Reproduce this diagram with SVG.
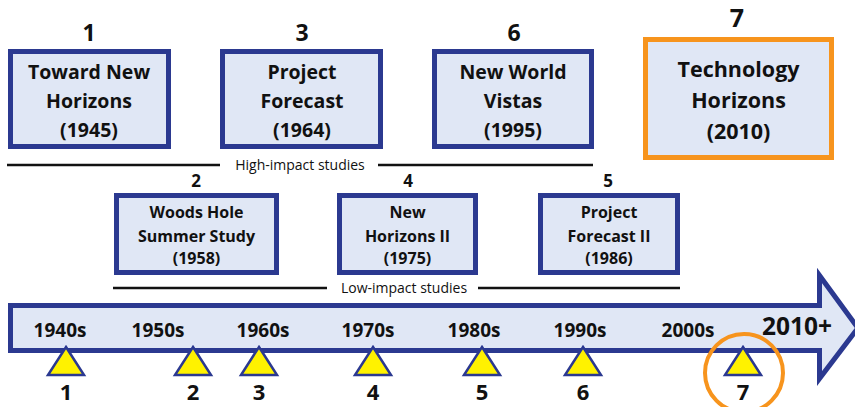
<svg xmlns="http://www.w3.org/2000/svg" width="855" height="407" viewBox="0 0 855 407">
<style>
text{font-family:"Open Sans","Liberation Sans",sans-serif;fill:#111;text-anchor:middle}
.box{fill:#E0E7F5;stroke:#2B3990;stroke-width:5}
.obox{fill:#E0E7F5;stroke:#F7941D;stroke-width:5}
.t1{font-size:19.5px;font-weight:700}
.t7{font-size:21.5px;font-weight:700}
.t2{font-size:16px;font-weight:700}
.n1{font-size:23px;font-weight:700}
.n3{font-size:22px;font-weight:700}
.n2{font-size:17px;font-weight:700}
.dec{font-size:19px;font-weight:700}
.lab{font-size:14px;font-weight:400}
.line{stroke:#111;stroke-width:2.5;fill:none}
.tri{fill:#FFF200;stroke:#2B3990;stroke-width:2.5;stroke-linejoin:miter}
</style>
<g id="timeline">
<polygon points="10.5,305.5 819.5,305.5 819.5,275.5 858,328 819.5,378.5 819.5,350.5 10.5,350.5" fill="#E0E7F5" stroke="#2B3990" stroke-width="5"/>
<text class="dec" x="60" y="337">1940s</text>
<text class="dec" x="158" y="337">1950s</text>
<text class="dec" x="263" y="337">1960s</text>
<text class="dec" x="368" y="337">1970s</text>
<text class="dec" x="474" y="337">1980s</text>
<text class="dec" x="580" y="337">1990s</text>
<text class="dec" x="688" y="337">2000s</text>
<text x="797" y="335" style="font-size:24.5px;font-weight:700">2010+</text>
</g>
<g id="connectors">
<line class="line" x1="7" y1="165" x2="220" y2="165"/>
<line class="line" x1="378" y1="165" x2="593" y2="165"/>
<text class="lab" x="300" y="170">High-impact studies</text>
<line class="line" x1="113" y1="288" x2="327" y2="288"/>
<line class="line" x1="478" y1="288" x2="680" y2="288"/>
<text class="lab" x="404" y="293">Low-impact studies</text>
</g>
<g id="node1">
<text class="n1" x="89" y="41">1</text>
<rect class="box" x="10.5" y="51.5" width="158" height="95"/>
<text class="t1" x="89" y="79">Toward New</text>
<text class="t1" x="89" y="108">Horizons</text>
<text class="t1" x="89" y="137">(1945)</text>
</g>
<g id="node3">
<text class="n1" x="302" y="41">3</text>
<rect class="box" x="222.5" y="51.5" width="158" height="95"/>
<text class="t1" x="302" y="79">Project</text>
<text class="t1" x="302" y="108">Forecast</text>
<text class="t1" x="302" y="137">(1964)</text>
</g>
<g id="node6">
<text class="n1" x="514" y="41">6</text>
<rect class="box" x="434.5" y="51.5" width="157" height="95"/>
<text class="t1" x="513" y="79">New World</text>
<text class="t1" x="513" y="108">Vistas</text>
<text class="t1" x="513" y="137">(1995)</text>
</g>
<g id="node7">
<text x="737" y="27" style="font-size:25px;font-weight:700">7</text>
<rect class="obox" x="645.5" y="39.5" width="186" height="118"/>
<text class="t7" x="738.5" y="77">Technology</text>
<text class="t7" x="738.5" y="108">Horizons</text>
<text class="t7" x="738.5" y="139">(2010)</text>
</g>
<g id="node2">
<text class="n2" x="196" y="187">2</text>
<rect class="box" x="116.5" y="195.5" width="160" height="77"/>
<text class="t2" x="196.5" y="218">Woods Hole</text>
<text class="t2" x="196.5" y="242">Summer Study</text>
<text class="t2" x="196.5" y="264">(1958)</text>
</g>
<g id="node4">
<text class="n2" x="408" y="187">4</text>
<rect class="box" x="339.5" y="195.5" width="136" height="77"/>
<text class="t2" x="407.5" y="218">New</text>
<text class="t2" x="407.5" y="242">Horizons II</text>
<text class="t2" x="407.5" y="264">(1975)</text>
</g>
<g id="node5">
<text class="n2" x="608" y="187">5</text>
<rect class="box" x="540.5" y="195.5" width="137" height="77"/>
<text class="t2" x="609" y="218">Project</text>
<text class="t2" x="609" y="242">Forecast II</text>
<text class="t2" x="609" y="264">(1986)</text>
</g>
<g id="markers">
<polygon class="tri" points="66,347 84,375 48,375"/>
<polygon class="tri" points="193,347 211,375 175,375"/>
<polygon class="tri" points="259,347 277,375 241,375"/>
<polygon class="tri" points="373,347 391,375 355,375"/>
<polygon class="tri" points="482,347 500,375 464,375"/>
<polygon class="tri" points="583,347 601,375 565,375"/>
<polygon class="tri" points="743,347 761,375 725,375"/>
<circle cx="744" cy="373" r="39" fill="none" stroke="#F7941D" stroke-width="4"/>
<text class="n3" x="66" y="400">1</text>
<text class="n3" x="193" y="400">2</text>
<text class="n3" x="259" y="400">3</text>
<text class="n3" x="373" y="400">4</text>
<text class="n3" x="482" y="400">5</text>
<text class="n3" x="583" y="400">6</text>
<text class="n3" x="743" y="400">7</text>
</g>
</svg>
